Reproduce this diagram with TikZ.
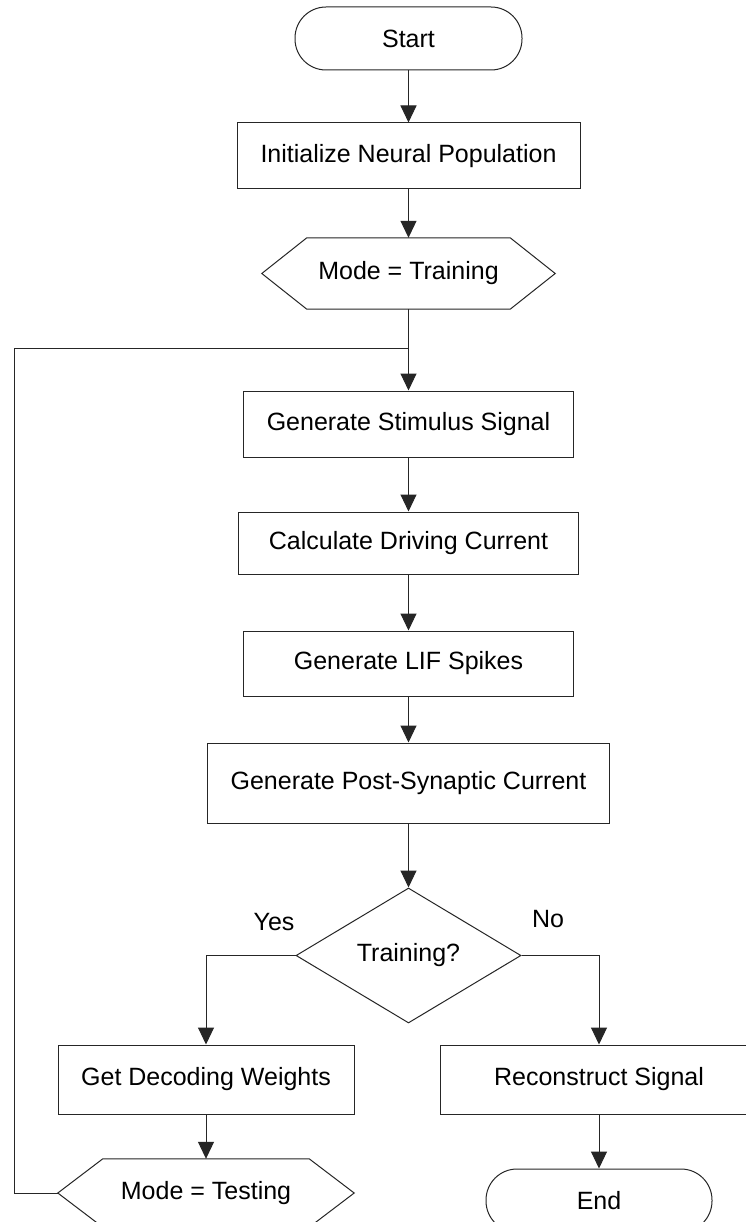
\documentclass[tikz,border=0pt]{standalone}
\usepackage{fontspec}
\setmainfont{Liberation Sans}
\usetikzlibrary{arrows.meta,shapes.geometric}
\begin{document}
\begin{tikzpicture}[x=1pt,y=-1pt,
  every node/.style={font=\fontsize{25}{30}\selectfont, inner sep=0pt},
  procbox/.style={draw=black!85, line width=1pt, rectangle},
  termbox/.style={draw=black!85, line width=1pt, rectangle, rounded corners=31pt, minimum width=227pt, minimum height=63pt},
  hexnode/.style={draw=none, rectangle},
  decbox/.style={draw=black!85, line width=1pt, diamond, minimum width=225pt, minimum height=135pt, aspect=1.667},
  conn/.style={draw=black!85, line width=1pt},
  arr/.style={conn, -{Triangle[length=17pt,width=16pt]}},
  lbl/.style={}
]
\useasboundingbox (0,0) rectangle (746,1222);
\clip (0,0) rectangle (746,1222);
\fill[white] (0,0) rectangle (746,1222);

\node[termbox] (start) at (408.5,38.5) {Start};
\node[procbox, minimum width=343pt, minimum height=66pt] (init) at (408.5,156) {Initialize Neural Population};
\node[hexnode, minimum width=293pt, minimum height=71pt] (hexT) at (408.5,273.5) {Mode = Training};
\draw[conn] (hexT.west) -- ([xshift=45pt]hexT.north west) -- ([xshift=-45pt]hexT.north east) -- (hexT.east) -- ([xshift=-45pt]hexT.south east) -- ([xshift=45pt]hexT.south west) -- cycle;
\node[procbox, minimum width=330pt, minimum height=66pt] (stim) at (408.5,424) {Generate Stimulus Signal};
\node[procbox, minimum width=340pt, minimum height=62pt] (calc) at (408.5,543) {Calculate Driving Current};
\node[procbox, minimum width=330pt, minimum height=65pt] (lif) at (408.5,663.5) {Generate LIF Spikes};
\node[procbox, minimum width=402pt, minimum height=80pt] (psc) at (408.5,783) {Generate Post-Synaptic Current};
\node[decbox] (dia) at (408.5,955.5) {Training?};
\node[lbl] (yes) at (274,922) {Yes};
\node[lbl] (no) at (548,919) {No};
\node[procbox, minimum width=296pt, minimum height=69pt] (dec) at (206,1079.5) {Get Decoding Weights};
\node[procbox, minimum width=318pt, minimum height=69pt] (rec) at (599,1079.5) {Reconstruct Signal};
\node[hexnode, minimum width=296pt, minimum height=68pt] (hexE) at (206,1193) {Mode = Testing};
\draw[conn] (hexE.west) -- ([xshift=45pt]hexE.north west) -- ([xshift=-45pt]hexE.north east) -- (hexE.east) -- ([xshift=-45pt]hexE.south east) -- ([xshift=45pt]hexE.south west) -- cycle;
\node[termbox, minimum width=226pt] (end) at (599,1200.5) {End};

\coordinate (lc1) at (14,1193);
\coordinate (lc2) at (14,348);
\coordinate (jn) at (408.5,348);

\draw[arr] (start) -- (init);
\draw[arr] (init) -- (hexT.north);
\draw[arr] (hexT.south) -- (stim.north);
\draw[arr] (stim) -- (calc);
\draw[arr] (calc) -- (lif);
\draw[arr] (lif) -- (psc);
\draw[arr] (psc) -- (dia);
\draw[arr] (dia.west) -| (dec.north);
\draw[arr] (dia.east) -| (rec.north);
\draw[arr] (dec) -- (hexE.north);
\draw[arr] (rec) -- (end);
\draw[conn] (hexE.west) -- (lc1) -- (lc2) -- (jn);
\end{tikzpicture}
\end{document}
